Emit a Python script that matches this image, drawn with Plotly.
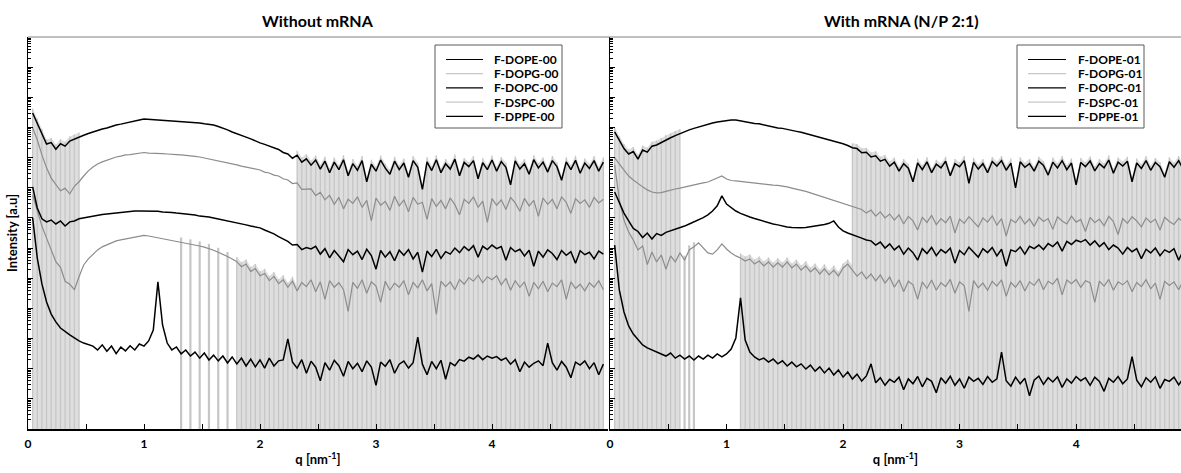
import numpy as np
import plotly.graph_objects as go

# scattering-vector sampling step (nm^-1): samples at q = 0.04, 0.08, ..., 4.96
Q_STEP = 0.04

# ---------- log10(intensity, a.u.) read from the figure : "Without mRNA" ----------
dope_00 = [10.48, 10.15, 9.80, 9.45, 9.50, 9.28, 9.46, 9.38, 9.55, 9.62,
           9.68, 9.74, 9.80, 9.85, 9.91, 9.95, 9.98, 10.04, 10.08, 10.11,
           10.15, 10.18, 10.21, 10.25, 10.28, 10.27, 10.25, 10.25, 10.24, 10.24,
           10.23, 10.22, 10.21, 10.20, 10.18, 10.17, 10.15, 10.12, 10.10, 10.08,
           10.03, 9.98, 9.92, 9.85, 9.80, 9.75, 9.68, 9.62, 9.55, 9.49,
           9.44, 9.39, 9.32, 9.27, 9.17, 9.12, 8.98, 9.08, 8.85, 8.96,
           8.75, 8.92, 8.62, 8.88, 8.50, 8.85, 8.60, 8.93, 8.40, 8.80,
           8.58, 8.90, 8.20, 8.78, 8.55, 8.92, 8.65, 8.45, 8.88, 8.60,
           8.82, 8.35, 8.90, 8.68, 7.95, 8.86, 8.57, 8.93, 8.50, 8.80,
           8.62, 8.95, 8.40, 8.84, 8.70, 8.90, 8.30, 8.83, 8.60, 8.92,
           8.55, 8.87, 8.68, 8.10, 8.89, 8.62, 8.80, 8.45, 8.93, 8.66,
           8.85, 8.52, 8.90, 8.70, 8.25, 8.86, 8.60, 8.91, 8.48, 8.82,
           8.64, 8.90, 8.55, 8.85]
dopg_00 = [9.98, 9.59, 9.09, 8.66, 8.32, 8.10, 7.90, 7.98, 7.80, 8.05,
           8.20, 8.39, 8.56, 8.69, 8.79, 8.86, 8.92, 8.96, 9.02, 9.05,
           9.09, 9.10, 9.12, 9.15, 9.17, 9.15, 9.15, 9.14, 9.13, 9.12,
           9.12, 9.10, 9.09, 9.08, 9.05, 9.04, 9.02, 8.99, 8.96, 8.92,
           8.89, 8.86, 8.82, 8.79, 8.76, 8.72, 8.69, 8.66, 8.62, 8.59,
           8.52, 8.49, 8.42, 8.39, 8.30, 8.26, 8.14, 8.16, 7.95, 7.96,
           7.96, 7.74, 7.85, 7.60, 7.75, 7.45, 7.68, 7.30, 7.62, 7.48,
           7.70, 7.35, 7.58, 6.90, 7.66, 7.42, 7.55, 7.25, 7.72, 7.40,
           7.60, 7.20, 7.68, 7.45, 7.52, 6.95, 7.64, 7.38, 7.58, 7.30,
           7.66, 7.44, 7.10, 7.62, 7.48, 7.70, 7.35, 7.56, 6.85, 7.64,
           7.42, 7.60, 7.28, 7.68, 7.50, 7.22, 7.65, 7.40, 7.58, 7.05,
           7.66, 7.45, 7.62, 7.30, 7.70, 7.52, 7.15, 7.64, 7.48, 7.60,
           7.35, 7.68, 7.50, 7.62]
dopc_00 = [8.03, 7.33, 6.97, 6.87, 6.93, 6.80, 6.90, 6.73, 6.87, 6.90,
           6.97, 7.00, 7.03, 7.06, 7.10, 7.11, 7.13, 7.15, 7.16, 7.18,
           7.20, 7.21, 7.23, 7.23, 7.23, 7.23, 7.22, 7.22, 7.20, 7.20,
           7.18, 7.16, 7.15, 7.13, 7.11, 7.10, 7.06, 7.05, 7.03, 7.00,
           6.97, 6.93, 6.90, 6.87, 6.83, 6.80, 6.77, 6.73, 6.70, 6.67,
           6.60, 6.54, 6.47, 6.38, 6.30, 6.22, 6.10, 6.12, 5.95, 6.02,
           5.97, 6.06, 5.80, 5.98, 5.68, 5.92, 5.74, 5.55, 5.95, 5.78,
           5.90, 5.62, 5.96, 5.75, 5.30, 5.92, 5.70, 5.88, 5.58, 5.93,
           5.76, 5.95, 5.64, 5.86, 5.20, 5.90, 5.72, 5.96, 5.66, 5.88,
           5.80, 6.00, 5.85, 6.05, 5.92, 6.08, 5.70, 6.06, 5.95, 6.10,
           5.98, 6.05, 5.60, 6.02, 5.88, 5.96, 5.74, 5.93, 5.40, 5.90,
           5.70, 5.94, 5.82, 5.62, 5.92, 5.76, 5.88, 5.50, 5.91, 5.78,
           5.86, 5.64, 5.90, 5.80]
dspc_00 = [7.76, 7.20, 6.73, 6.33, 5.97, 5.55, 5.36, 4.90, 4.80, 4.62,
           5.05, 5.44, 5.64, 5.80, 5.94, 6.04, 6.10, 6.17, 6.24, 6.27,
           6.30, 6.33, 6.37, 6.40, 6.42, 6.40, 6.37, 6.35, 6.33, 6.30,
           6.27, 6.24, 6.20, 6.17, 6.14, 6.10, 6.07, 6.03, 5.99, 5.93,
           5.86, 5.80, 5.72, 5.64, 5.55, 5.38, 5.47, 5.22, 5.32, 5.08,
           5.16, 4.92, 5.06, 4.82, 4.95, 4.70, 4.90, 4.58, 4.86, 4.72,
           4.95, 4.55, 4.88, 4.30, 4.92, 4.70, 4.85, 4.62, 3.90, 4.86,
           4.66, 4.95, 4.50, 4.88, 4.74, 4.20, 4.90, 4.60, 4.84, 4.70,
           4.92, 4.45, 4.86, 4.68, 4.95, 4.58, 4.82, 3.80, 4.90, 4.72,
           4.88, 4.62, 4.96, 4.80, 5.02, 4.90, 5.10, 4.85, 5.05, 4.95,
           5.08, 4.78, 5.00, 4.60, 4.92, 4.70, 4.88, 4.40, 4.86, 4.65,
           4.90, 4.55, 4.84, 4.72, 4.95, 4.30, 4.88, 4.66, 4.80, 4.58,
           4.85, 4.70, 4.92, 4.62]
dppe_00 = [7.00, 5.67, 4.81, 4.21, 3.81, 3.55, 3.35, 3.22, 3.12, 3.02,
           2.92, 2.85, 2.79, 2.75, 2.62, 2.79, 2.58, 2.75, 2.50, 2.72,
           2.59, 2.76, 2.62, 2.82, 2.75, 2.92, 3.28, 4.88, 3.45, 2.85,
           2.62, 2.72, 2.49, 2.62, 2.42, 2.55, 2.35, 2.52, 2.29, 2.45,
           2.26, 2.42, 2.19, 2.39, 2.16, 2.35, 2.09, 2.32, 2.06, 2.29,
           2.02, 2.35, 2.09, 2.26, 2.29, 2.99, 2.22, 2.02, 2.30, 1.85,
           2.25, 2.05, 1.60, 2.20, 1.95, 2.28, 2.10, 1.75, 2.24, 2.00,
           2.18, 1.90, 2.26, 2.05, 1.45, 2.22, 2.08, 2.30, 1.85, 2.15,
           2.25, 2.02, 2.20, 3.05, 2.15, 1.80, 2.24, 2.00, 2.28, 1.65,
           2.20, 2.10, 2.30, 2.25, 2.38, 2.32, 2.45, 2.30, 2.42, 2.35,
           2.40, 2.28, 2.36, 2.15, 2.30, 1.90, 2.22, 2.05, 2.18, 2.26,
           2.10, 2.85, 2.20, 1.95, 2.24, 2.05, 1.70, 2.22, 2.12, 2.26,
           2.00, 2.20, 1.80, 2.15]

dope_01 = [9.85, 9.55, 9.30, 9.12, 9.20, 8.95, 9.25, 9.18, 9.38, 9.42,
           9.50, 9.60, 9.66, 9.73, 9.80, 9.87, 9.92, 9.97, 10.02, 10.05,
           10.10, 10.15, 10.18, 10.21, 10.23, 10.25, 10.25, 10.22, 10.18, 10.15,
           10.13, 10.12, 10.08, 10.05, 10.02, 9.98, 9.97, 9.93, 9.90, 9.87,
           9.84, 9.80, 9.76, 9.72, 9.68, 9.64, 9.60, 9.56, 9.51, 9.46,
           9.40, 9.33, 9.30, 9.16, 9.18, 9.02, 9.06, 8.88, 8.94, 8.72,
           8.85, 8.55, 8.80, 8.65, 8.20, 8.82, 8.60, 8.86, 8.50, 8.78,
           8.66, 8.88, 8.40, 8.80, 8.70, 8.90, 8.15, 8.84, 8.62, 8.80,
           8.50, 8.87, 8.72, 8.90, 8.58, 8.82, 8.00, 8.86, 8.68, 8.80,
           8.55, 8.88, 8.74, 8.42, 8.85, 8.66, 8.90, 8.60, 8.82, 8.10,
           8.84, 8.70, 8.89, 8.56, 8.80, 8.66, 8.92, 8.48, 8.85, 8.72,
           8.88, 8.20, 8.82, 8.64, 8.90, 8.58, 8.84, 8.70, 8.35, 8.86,
           8.68, 8.90, 8.60, 8.82]
dopg_01 = [8.99, 8.79, 8.59, 8.39, 8.26, 8.13, 8.03, 7.93, 7.86, 7.83,
           7.84, 7.88, 7.93, 7.96, 7.99, 8.03, 8.06, 8.09, 8.13, 8.16,
           8.19, 8.26, 8.32, 8.39, 8.29, 8.24, 8.23, 8.21, 8.19, 8.18,
           8.16, 8.14, 8.13, 8.11, 8.09, 8.08, 8.06, 8.03, 7.99, 7.96,
           7.93, 7.88, 7.83, 7.78, 7.73, 7.68, 7.63, 7.58, 7.53, 7.48,
           7.43, 7.38, 7.33, 7.28, 7.16, 7.26, 7.06, 7.20, 7.00, 7.13,
           6.93, 7.10, 6.80, 7.05, 6.90, 6.60, 7.02, 6.85, 7.08, 6.78,
           6.98, 6.84, 7.06, 6.50, 6.96, 6.82, 7.04, 6.88, 6.70, 7.00,
           6.86, 7.07, 6.76, 6.98, 6.40, 6.95, 6.84, 7.05, 6.80, 6.97,
           6.72, 7.03, 6.88, 6.98, 6.62, 7.04, 6.90, 6.80, 7.06, 6.86,
           6.95, 6.55, 7.02, 6.84, 6.96, 6.74, 7.05, 6.88, 6.45, 6.98,
           6.82, 7.04, 6.90, 6.70, 7.00, 6.85, 6.96, 6.60, 7.02, 6.88,
           6.78, 6.99, 6.86, 6.94]
dopc_01 = [7.86, 7.50, 7.16, 6.90, 6.65, 6.55, 6.35, 6.50, 6.30, 6.48,
           6.42, 6.52, 6.57, 6.62, 6.67, 6.73, 6.80, 6.87, 6.93, 7.01,
           7.10, 7.23, 7.40, 7.73, 7.46, 7.33, 7.23, 7.15, 7.08, 7.03,
           6.98, 6.93, 6.88, 6.85, 6.80, 6.77, 6.73, 6.70, 6.68, 6.67,
           6.67, 6.68, 6.70, 6.72, 6.75, 6.78, 6.82, 6.90, 6.70, 6.57,
           6.50, 6.45, 6.40, 6.33, 6.27, 6.24, 6.10, 6.20, 6.00, 6.14,
           5.94, 6.07, 5.80, 6.00, 5.85, 5.60, 5.98, 5.82, 6.02, 5.75,
           5.95, 5.84, 6.00, 5.50, 5.92, 5.78, 6.03, 5.86, 5.70, 5.98,
           5.85, 6.02, 5.74, 5.96, 5.40, 5.94, 5.88, 6.04, 5.80, 6.06,
           5.98, 6.10, 5.95, 6.15, 6.05, 6.20, 5.90, 6.22, 6.12, 6.26,
           6.20, 6.28, 6.10, 6.24, 6.05, 6.18, 5.95, 6.10, 6.00, 5.80,
           6.02, 5.88, 5.98, 5.65, 5.96, 5.84, 6.00, 5.75, 5.94, 5.86,
           5.98, 5.60, 5.92, 5.84]
dspc_01 = [8.76, 7.60, 6.93, 6.53, 6.27, 5.94, 6.07, 5.45, 5.87, 5.54,
           5.77, 5.30, 5.74, 5.54, 5.84, 5.60, 5.94, 6.04, 6.17, 6.00,
           5.84, 5.80, 5.94, 6.14, 5.97, 5.84, 5.74, 5.67, 5.57, 5.64,
           5.47, 5.57, 5.41, 5.54, 5.37, 5.51, 5.37, 5.54, 5.34, 5.47,
           5.27, 5.41, 5.21, 5.34, 5.14, 5.31, 5.11, 5.27, 5.07, 5.34,
           5.47, 5.27, 5.07, 5.21, 4.98, 5.14, 4.91, 5.11, 4.84, 5.04,
           4.70, 4.95, 4.55, 4.90, 4.78, 4.30, 4.88, 4.66, 4.94, 4.60,
           4.85, 4.72, 4.96, 4.50, 4.88, 4.75, 3.90, 4.92, 4.68, 4.84,
           4.60, 4.90, 4.74, 4.95, 4.40, 4.86, 4.70, 4.92, 4.58, 4.88,
           4.76, 4.98, 4.62, 4.90, 4.80, 5.00, 4.45, 4.94, 4.82, 4.96,
           4.70, 4.92, 4.85, 4.20, 4.90, 4.74, 4.96, 4.60, 4.88, 4.78,
           4.92, 4.55, 4.86, 4.72, 4.95, 4.65, 4.84, 4.30, 4.90, 4.76,
           4.88, 4.62, 4.92, 4.80]
dppe_01 = [6.10, 4.61, 3.88, 3.42, 3.15, 2.95, 2.79, 2.69, 2.62, 2.55,
           2.49, 2.42, 2.52, 2.35, 2.45, 2.32, 2.42, 2.29, 2.42, 2.32,
           2.45, 2.35, 2.49, 2.39, 2.49, 2.65, 3.02, 4.35, 2.95, 2.55,
           2.39, 2.29, 2.35, 2.22, 2.32, 2.16, 2.26, 2.09, 2.22, 2.06,
           2.16, 1.99, 2.12, 1.92, 2.06, 1.86, 2.02, 1.79, 1.96, 1.72,
           1.89, 1.66, 1.82, 1.59, 1.76, 2.16, 1.53, 1.70, 1.45, 1.65,
           1.55, 1.72, 1.30, 1.66, 1.50, 1.74, 1.40, 1.68, 1.58, 1.20,
           1.70, 1.52, 1.75, 1.45, 1.66, 1.35, 1.72, 1.58, 1.68, 1.48,
           1.74, 1.55, 1.66, 2.55, 1.60, 1.42, 1.72, 1.50, 1.68, 1.10,
           1.62, 1.75, 1.48, 1.70, 1.56, 1.73, 1.38, 1.66, 1.52, 1.74,
           1.60, 1.70, 1.45, 1.72, 1.58, 1.25, 1.68, 1.55, 1.74, 1.50,
           1.66, 2.40, 1.62, 1.40, 1.70, 1.55, 1.73, 1.35, 1.64, 1.58,
           1.72, 1.46, 1.68, 1.55]

labels_00 = ["F-DOPE-00", "F-DOPG-00", "F-DOPC-00", "F-DSPC-00", "F-DPPE-00"]
labels_01 = ["F-DOPE-01", "F-DOPG-01", "F-DOPC-01", "F-DSPC-01", "F-DPPE-01"]
series_00 = dict(zip(labels_00, [dope_00, dopg_00, dopc_00, dspc_00, dppe_00]))
series_01 = dict(zip(labels_01, [dope_01, dopg_01, dopc_01, dspc_01, dppe_01]))

# q-ranges where error bars fall below the axis floor (light-grey hatching):
# (series they hang from, q start, q end, stripe every n-th sample, dense fill?)
hatch_00 = [("F-DOPE-00", 0.04, 0.44, 1, True), ("F-DSPC-00", 1.32, 1.76, 2, False),
            ("F-DSPC-00", 1.80, 2.32, 1, True), ("F-DOPE-00", 2.32, 4.96, 1, True)]
hatch_01 = [("F-DOPE-01", 0.04, 0.60, 1, True), ("F-DSPC-01", 0.64, 0.72, 1, False),
            ("F-DSPC-01", 1.12, 2.08, 1, True), ("F-DOPE-01", 2.08, 4.96, 1, True)]

for s in list(series_00.values()) + list(series_01.values()):
    assert len(s) == 124, len(s)

BLACK, GREY, LEGEND_GREY = "#000000", "#8c8c8c", "#c8c8c8"
HATCH_FILL, HATCH_LINE = "#dedede", "#c6c6c6"
FONT = "Lato, 'Open Sans', sans-serif"

W, H = 1181, 473
ML, MR, MT, MB = 28, 0, 37, 44
PW = W - ML - MR
PH = H - MT - MB


def px_x(p):
    return (p - ML) / PW


def px_y(p):
    return (H - MB - p) / PH


def is_grey(lab):
    return ("DOPG" in lab) or ("DSPC" in lab)


fig = go.Figure()


def add_panel(series, labels, hatch, xa, ya):
    for lab, q0, q1, every, dense in hatch:
        v = np.asarray(series[lab])
        qq = Q_STEP * np.arange(1, len(v) + 1)
        idx = np.where((qq > q0 - 1e-6) & (qq < q1 + 1e-6))[0]
        top = 10 ** (v[idx] + 0.15)
        if dense:
            xs = list(qq[idx]) + list(qq[idx][::-1])
            ys = list(top) + [0.1] * len(idx)
            fig.add_trace(go.Scatter(x=xs, y=ys, mode="lines", fill="toself",
                                     fillcolor=HATCH_FILL, line=dict(width=0),
                                     hoverinfo="skip", showlegend=False, xaxis=xa, yaxis=ya))
        hx, hy = [], []
        for j, i in enumerate(idx):
            if j % every:
                continue
            hx += [qq[i], qq[i], None]
            hy += [10 ** (v[i] + 0.15), 0.1, None]
        fig.add_trace(go.Scatter(x=hx, y=hy, mode="lines",
                                 line=dict(color=HATCH_LINE, width=1.3 if dense else 2.2),
                                 hoverinfo="skip", showlegend=False, xaxis=xa, yaxis=ya))
    for lab in sorted(labels, key=lambda l: 0 if is_grey(l) else 1):
        v = np.asarray(series[lab])
        qq = Q_STEP * np.arange(1, len(v) + 1)
        fig.add_trace(go.Scatter(x=qq, y=10 ** v, mode="lines", name=lab,
                                 line=dict(color=GREY if is_grey(lab) else BLACK,
                                           width=1.2 if is_grey(lab) else 1.5),
                                 showlegend=False, xaxis=xa, yaxis=ya))


add_panel(series_00, labels_00, hatch_00, "x", "y")
add_panel(series_01, labels_01, hatch_01, "x2", "y2")

# hand-drawn legend boxes (compact row spacing as in the original)
shapes = [dict(type="line", xref="paper", yref="paper", x0=0, x1=1, y0=1, y1=1,
               line=dict(color="#808080", width=1))]
annotations = []
legend_boxes = [(labels_00, 435, 562, 446, 483, 492), (labels_01, 1017, 1144, 1028, 1066, 1076)]
ROW0, ROW_STEP = 59.5, 14.2
for labs, bx0, bx1, lx0, lx1, tx in legend_boxes:
    shapes.append(dict(type="rect", xref="paper", yref="paper", x0=px_x(bx0), x1=px_x(bx1),
                       y0=px_y(128), y1=px_y(45), line=dict(color="#595959", width=1),
                       fillcolor="white", layer="above"))
    for r, lab in enumerate(labs):
        yy = ROW0 + r * ROW_STEP
        shapes.append(dict(type="line", xref="paper", yref="paper", x0=px_x(lx0), x1=px_x(lx1),
                           y0=px_y(yy), y1=px_y(yy), layer="above",
                           line=dict(color=LEGEND_GREY if is_grey(lab) else BLACK, width=1.2)))
        annotations.append(dict(text=lab, x=px_x(tx), y=px_y(yy), xref="paper", yref="paper",
                                xanchor="left", yanchor="middle", showarrow=False,
                                font=dict(family=FONT, size=12, color="black", weight="bold")))

annotations += [
    dict(text="Without mRNA", x=px_x(318), y=px_y(21), xref="paper", yref="paper",
         xanchor="center", yanchor="middle", showarrow=False,
         font=dict(family=FONT, size=16, color="black", weight="bold")),
    dict(text="With mRNA (N/P 2:1)", x=px_x(901), y=px_y(21), xref="paper", yref="paper",
         xanchor="center", yanchor="middle", showarrow=False,
         font=dict(family=FONT, size=16, color="black", weight="bold")),
    dict(text="Intensity [a.u]", textangle=-90, x=px_x(12), y=0.5, xref="paper", yref="paper",
         xanchor="center", yanchor="middle", showarrow=False,
         font=dict(family=FONT, size=13, color="black", weight="bold")),
]

major = [10.0 ** i for i in range(0, 14)]
minor = [m * 10.0 ** i for i in range(0, 13) for m in range(2, 10)]

yax = dict(type="log", range=[0, 13], tickvals=major, ticks="inside", ticklen=5,
           tickcolor="black", showticklabels=False, showline=True, linecolor="black",
           linewidth=1, showgrid=False, zeroline=False,
           minor=dict(tickvals=minor, ticks="inside", ticklen=2.5, tickcolor="black", showgrid=False))

xax = dict(tickvals=[0, 1, 2, 3, 4], ticks="inside", ticklen=5, tickcolor="black",
           showline=True, linecolor="black", linewidth=1.5, showgrid=False, zeroline=False,
           tickfont=dict(family=FONT, size=12, color="black", weight="bold"),
           ticklabelstandoff=3,
           minor=dict(tickvals=[0.5, 1.5, 2.5, 3.5, 4.5], ticks="inside", ticklen=5,
                      tickcolor="black", showgrid=False),
           title=dict(text="q [nm<sup>-1</sup>]", standoff=5,
                      font=dict(family=FONT, size=13, color="black", weight="bold")))

fig.update_layout(
    width=W, height=H,
    margin=dict(l=ML, r=MR, t=MT, b=MB, autoexpand=False),
    plot_bgcolor="white", paper_bgcolor="white",
    font=dict(family=FONT, size=11, color="black"),
    showlegend=False,
    xaxis=dict(xax, domain=[0, 580 / PW], range=[0, 5], anchor="y"),
    xaxis2=dict(xax, domain=[582 / PW, 1], range=[0, 4.9], anchor="y2"),
    yaxis=dict(yax, domain=[0, 1], anchor="x"),
    yaxis2=dict(yax, domain=[0, 1], anchor="x2"),
    shapes=shapes,
    annotations=annotations,
)

fig.write_html("out.html")
